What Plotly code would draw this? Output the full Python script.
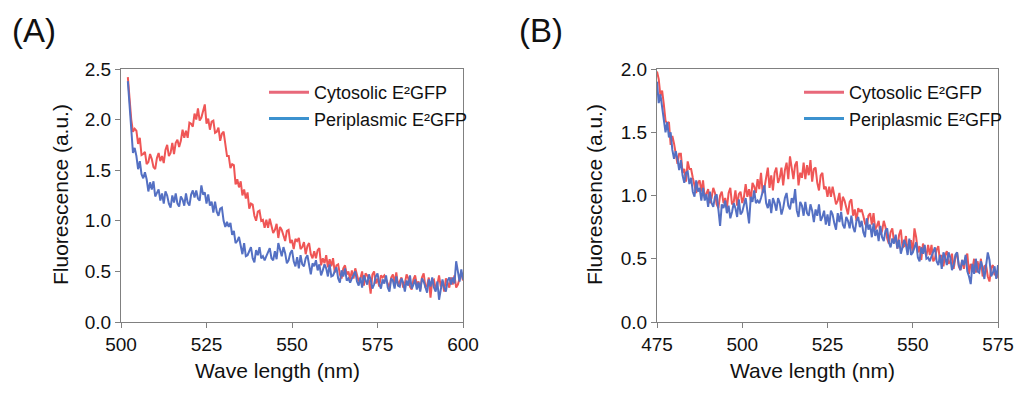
import numpy as np
import plotly.graph_objects as go

# ---------------- data ----------------
wl_a_start, wl_a_end = 502.0, 600.0
wl_b_start, wl_b_end = 475.0, 575.0

cyto_a = [
    2.42, 2.19, 2.00, 1.88, 1.91, 1.89, 1.76, 1.82, 1.65, 1.66,
    1.68, 1.56, 1.58, 1.66, 1.61, 1.53, 1.51, 1.62, 1.67, 1.59,
    1.64, 1.57, 1.70, 1.75, 1.64, 1.67, 1.77, 1.66, 1.77, 1.80,
    1.73, 1.79, 1.90, 1.82, 1.89, 1.82, 1.97, 1.96, 1.93, 2.06,
    2.00, 2.11, 1.99, 2.02, 2.08, 2.15, 1.96, 2.01, 1.90, 1.98,
    1.99, 1.87, 1.88, 1.92, 1.79, 1.86, 1.88, 1.75, 1.64, 1.64,
    1.52, 1.56, 1.55, 1.36, 1.41, 1.33, 1.39, 1.25, 1.31, 1.22,
    1.28, 1.12, 1.17, 1.16, 1.05, 1.00, 1.09, 1.10, 1.00, 1.01,
    0.93, 1.01, 0.93, 1.02, 0.96, 0.88, 0.91, 0.97, 0.83, 0.94,
    0.91, 0.85, 0.80, 0.90, 0.91, 0.78, 0.81, 0.72, 0.82, 0.80,
    0.83, 0.72, 0.74, 0.79, 0.67, 0.75, 0.78, 0.67, 0.63, 0.70,
    0.63, 0.71, 0.73, 0.56, 0.63, 0.58, 0.66, 0.54, 0.62, 0.55,
    0.63, 0.49, 0.56, 0.57, 0.47, 0.43, 0.53, 0.56, 0.47, 0.50,
    0.42, 0.51, 0.43, 0.53, 0.47, 0.40, 0.43, 0.50, 0.36, 0.48,
    0.46, 0.41, 0.28, 0.47, 0.50, 0.38, 0.43, 0.35, 0.46, 0.44,
    0.46, 0.42, 0.37, 0.34, 0.44, 0.47, 0.39, 0.49, 0.36, 0.40,
    0.44, 0.34, 0.38, 0.47, 0.43, 0.35, 0.32, 0.42, 0.46, 0.37,
    0.40, 0.32, 0.44, 0.48, 0.35, 0.36, 0.44, 0.24, 0.41, 0.42,
    0.33, 0.37, 0.46, 0.35, 0.40, 0.30, 0.43, 0.39, 0.34, 0.44,
    0.37, 0.46, 0.34, 0.37, 0.44, 0.49, 0.41,
]

peri_a = [
    2.38, 2.12, 1.83, 1.67, 1.72, 1.64, 1.51, 1.59, 1.46, 1.42,
    1.48, 1.41, 1.29, 1.38, 1.31, 1.39, 1.24, 1.27, 1.31, 1.20,
    1.27, 1.17, 1.29, 1.25, 1.17, 1.13, 1.25, 1.18, 1.27, 1.17,
    1.14, 1.24, 1.21, 1.15, 1.27, 1.18, 1.15, 1.26, 1.30, 1.23,
    1.30, 1.22, 1.20, 1.35, 1.26, 1.28, 1.17, 1.26, 1.15, 1.19,
    1.08, 1.19, 1.09, 1.05, 1.12, 1.13, 1.00, 0.94, 0.99, 0.94,
    0.98, 0.86, 0.90, 0.78, 0.80, 0.84, 0.77, 0.67, 0.78, 0.65,
    0.66, 0.70, 0.74, 0.63, 0.59, 0.71, 0.66, 0.74, 0.63, 0.65,
    0.61, 0.65, 0.70, 0.73, 0.63, 0.61, 0.70, 0.62, 0.78, 0.71,
    0.65, 0.74, 0.68, 0.58, 0.61, 0.68, 0.71, 0.60, 0.55, 0.64,
    0.53, 0.66, 0.57, 0.55, 0.63, 0.66, 0.54, 0.47, 0.58, 0.55,
    0.61, 0.51, 0.57, 0.46, 0.51, 0.57, 0.53, 0.45, 0.57, 0.45,
    0.46, 0.51, 0.54, 0.43, 0.39, 0.51, 0.45, 0.53, 0.41, 0.43,
    0.39, 0.43, 0.47, 0.50, 0.40, 0.36, 0.44, 0.34, 0.46, 0.42,
    0.37, 0.47, 0.42, 0.33, 0.37, 0.45, 0.48, 0.38, 0.33, 0.42,
    0.38, 0.46, 0.34, 0.30, 0.43, 0.41, 0.33, 0.45, 0.36, 0.35,
    0.43, 0.39, 0.30, 0.41, 0.36, 0.46, 0.33, 0.37, 0.42, 0.32,
    0.39, 0.30, 0.43, 0.40, 0.33, 0.29, 0.42, 0.35, 0.44, 0.34,
    0.30, 0.40, 0.22, 0.31, 0.42, 0.34, 0.30, 0.41, 0.44, 0.37,
    0.44, 0.38, 0.60, 0.50, 0.40, 0.52, 0.42,
]

cyto_b = [
    1.98, 1.92, 1.79, 1.83, 1.72, 1.59, 1.57, 1.58, 1.40, 1.47,
    1.41, 1.32, 1.25, 1.33, 1.33, 1.18, 1.21, 1.11, 1.27, 1.21,
    1.21, 1.14, 1.07, 1.02, 1.10, 1.12, 1.03, 1.12, 0.98, 1.01,
    1.05, 0.94, 0.98, 1.06, 1.02, 0.93, 0.90, 1.00, 1.03, 0.94,
    0.98, 0.90, 1.02, 1.06, 0.93, 0.95, 1.04, 0.92, 1.01, 1.03,
    0.94, 0.99, 1.09, 0.99, 1.05, 0.96, 1.10, 1.07, 1.02, 1.13,
    1.05, 1.18, 1.02, 1.06, 1.16, 1.22, 1.06, 1.16, 1.04, 1.18,
    1.22, 1.10, 1.14, 1.22, 1.08, 1.20, 1.26, 1.13, 1.31, 1.21,
    1.13, 1.24, 1.27, 1.08, 1.18, 1.14, 1.26, 1.13, 1.24, 1.16,
    1.28, 1.11, 1.21, 1.22, 1.10, 1.04, 1.16, 1.18, 1.05, 1.07,
    0.99, 1.07, 0.99, 1.07, 1.01, 0.93, 0.96, 1.02, 0.88, 0.99,
    0.96, 0.90, 0.85, 0.95, 0.97, 0.84, 0.89, 0.80, 0.90, 0.87,
    0.89, 0.84, 0.78, 0.75, 0.84, 0.86, 0.77, 0.86, 0.73, 0.76,
    0.80, 0.69, 0.72, 0.80, 0.75, 0.66, 0.62, 0.71, 0.74, 0.64,
    0.67, 0.58, 0.69, 0.73, 0.59, 0.60, 0.68, 0.55, 0.64, 0.64,
    0.55, 0.74, 0.67, 0.55, 0.60, 0.49, 0.62, 0.57, 0.52, 0.61,
    0.53, 0.61, 0.48, 0.50, 0.57, 0.60, 0.47, 0.53, 0.44, 0.53,
    0.56, 0.46, 0.48, 0.54, 0.42, 0.51, 0.55, 0.44, 0.41, 0.49,
    0.42, 0.51, 0.54, 0.38, 0.46, 0.42, 0.50, 0.39, 0.48, 0.41,
    0.50, 0.36, 0.44, 0.45, 0.36, 0.32, 0.43, 0.45, 0.37, 0.39,
    0.35,
]

peri_b = [
    1.90, 1.73, 1.80, 1.71, 1.59, 1.50, 1.58, 1.46, 1.50, 1.36,
    1.29, 1.35, 1.29, 1.20, 1.28, 1.16, 1.10, 1.18, 1.19, 1.09,
    1.14, 1.03, 0.99, 1.12, 1.03, 1.06, 0.96, 1.06, 0.96, 1.01,
    0.91, 1.03, 0.94, 0.91, 0.99, 1.01, 0.89, 0.76, 0.93, 0.90,
    0.96, 0.86, 0.92, 0.82, 0.87, 0.94, 0.90, 0.83, 0.97, 0.85,
    0.87, 0.93, 0.98, 0.88, 0.78, 0.99, 0.95, 1.04, 0.94, 0.96,
    0.94, 0.98, 1.03, 1.08, 0.94, 0.90, 0.97, 0.86, 0.98, 0.94,
    0.88, 0.98, 0.94, 0.85, 0.90, 0.98, 1.02, 0.92, 0.89, 0.98,
    0.94, 1.05, 0.88, 0.83, 0.95, 0.92, 0.84, 0.95, 0.86, 0.84,
    0.93, 0.88, 0.79, 0.89, 0.84, 0.93, 0.80, 0.83, 0.88, 0.77,
    0.85, 0.76, 0.88, 0.85, 0.78, 0.73, 0.86, 0.79, 0.87, 0.77,
    0.74, 0.83, 0.80, 0.74, 0.84, 0.75, 0.71, 0.80, 0.83, 0.75,
    0.80, 0.71, 0.67, 0.82, 0.73, 0.77, 0.67, 0.78, 0.68, 0.73,
    0.64, 0.76, 0.67, 0.64, 0.72, 0.74, 0.63, 0.59, 0.66, 0.62,
    0.69, 0.58, 0.65, 0.54, 0.59, 0.65, 0.61, 0.53, 0.66, 0.53,
    0.55, 0.59, 0.63, 0.51, 0.48, 0.59, 0.54, 0.61, 0.50, 0.51,
    0.48, 0.52, 0.56, 0.59, 0.48, 0.45, 0.53, 0.42, 0.55, 0.51,
    0.45, 0.55, 0.51, 0.41, 0.45, 0.53, 0.55, 0.45, 0.41, 0.49,
    0.45, 0.53, 0.40, 0.36, 0.30, 0.46, 0.38, 0.50, 0.40, 0.39,
    0.48, 0.43, 0.34, 0.45, 0.55, 0.49, 0.36, 0.39, 0.44, 0.34,
    0.45,
]

x_ticks_a = [500, 525, 550, 575, 600]
x_ticks_b = [475, 500, 525, 550, 575]
y_ticks_a = [0.0, 0.5, 1.0, 1.5, 2.0, 2.5]
y_ticks_b = [0.0, 0.5, 1.0, 1.5, 2.0]
series_names = ["Cytosolic E²GFP", "Periplasmic E²GFP"]
panel_labels = ["(A)", "(B)"]
x_title = "Wave length (nm)"
y_title = "Fluorescence (a.u.)"

# ---------------- styling ----------------
OFF = 8                      # page body margin of the html page
W, H = 1023 - 2 * OFF, 394 - 2 * OFF
RED, BLUE = "#EF5656", "#5470C3"
RED_LEG, BLUE_LEG = "#E8687A", "#3C92CF"
FONT = "Liberation Sans, Arial, sans-serif"
AX = "#808080"
LW = 2.0

wl_a = np.linspace(wl_a_start, wl_a_end, len(cyto_a))
wl_a2 = np.linspace(wl_a_start, wl_a_end, len(peri_a))
wl_b = np.linspace(wl_b_start, wl_b_end, len(cyto_b))
wl_b2 = np.linspace(wl_b_start, wl_b_end, len(peri_b))

fig = go.Figure()

def add_panel(xr, yr, xp, yp, xa, ya, leg):
    fig.add_trace(go.Scatter(x=xr, y=yr, mode="lines", line=dict(color=RED, width=LW),
                             xaxis=xa, yaxis=ya, showlegend=False, hoverinfo="skip"))
    fig.add_trace(go.Scatter(x=xp, y=yp, mode="lines", line=dict(color=BLUE, width=LW),
                             xaxis=xa, yaxis=ya, showlegend=False, hoverinfo="skip"))
    for name, col in zip(series_names, [RED_LEG, BLUE_LEG]):
        fig.add_trace(go.Scatter(x=[None], y=[None], mode="lines", name=name,
                                 line=dict(color=col, width=3), xaxis=xa, yaxis=ya,
                                 legend=leg, showlegend=True))

add_panel(wl_a, cyto_a, wl_a2, peri_a, "x", "y", "legend")
add_panel(wl_b, cyto_b, wl_b2, peri_b, "x2", "y2", "legend2")

def px_x(p):
    return (p - OFF) / W

def px_y(p):
    return 1 - (p - OFF) / H

ydom = [px_y(322), px_y(69)]
common_axis = dict(showline=True, linecolor=AX, linewidth=1, mirror=True,
                   ticks="outside", ticklen=5, tickcolor=AX, tickwidth=1,
                   showgrid=False, zeroline=False, automargin=False,
                   tickfont=dict(family=FONT, size=19, color="#111111"))

leg_common = dict(xanchor="left", yanchor="top", bgcolor="rgba(0,0,0,0)",
                  font=dict(family=FONT, size=18, color="#111111"),
                  itemwidth=40, tracegroupgap=0)

fig.update_layout(
    width=W, height=H,
    margin=dict(l=0, r=0, t=0, b=0, autoexpand=False),
    paper_bgcolor="white", plot_bgcolor="white",
    xaxis=dict(domain=[px_x(121), px_x(463)], range=[500, 600], tickvals=x_ticks_a,
               anchor="y", **common_axis),
    yaxis=dict(domain=ydom, range=[0, 2.5], tickvals=y_ticks_a, tickformat=".1f",
               anchor="x", **common_axis),
    xaxis2=dict(domain=[px_x(657), px_x(998)], range=[475, 575], tickvals=x_ticks_b,
                anchor="y2", **common_axis),
    yaxis2=dict(domain=ydom, range=[0, 2.0], tickvals=y_ticks_b, tickformat=".1f",
                anchor="x2", **common_axis),
    legend=dict(x=px_x(264), y=px_y(74), **leg_common),
    legend2=dict(x=px_x(799), y=px_y(74), **leg_common),
)

for txt, cx in zip(panel_labels, [34, 541]):
    fig.add_annotation(xref="paper", yref="paper", showarrow=False, x=px_x(cx), y=px_y(31),
                       text=txt, xanchor="center", yanchor="middle",
                       font=dict(family=FONT, size=33, color="#111111"))
for cx in [277, 812]:
    fig.add_annotation(xref="paper", yref="paper", showarrow=False, x=px_x(cx), y=px_y(370),
                       text=x_title, xanchor="center", yanchor="middle",
                       font=dict(family=FONT, size=21, color="#111111"))
for cx in [61, 595]:
    fig.add_annotation(xref="paper", yref="paper", showarrow=False, x=px_x(cx), y=px_y(195),
                       text=y_title, xanchor="center", yanchor="middle", textangle=-90,
                       font=dict(family=FONT, size=21, color="#111111"))

fig.write_html("out.html")
